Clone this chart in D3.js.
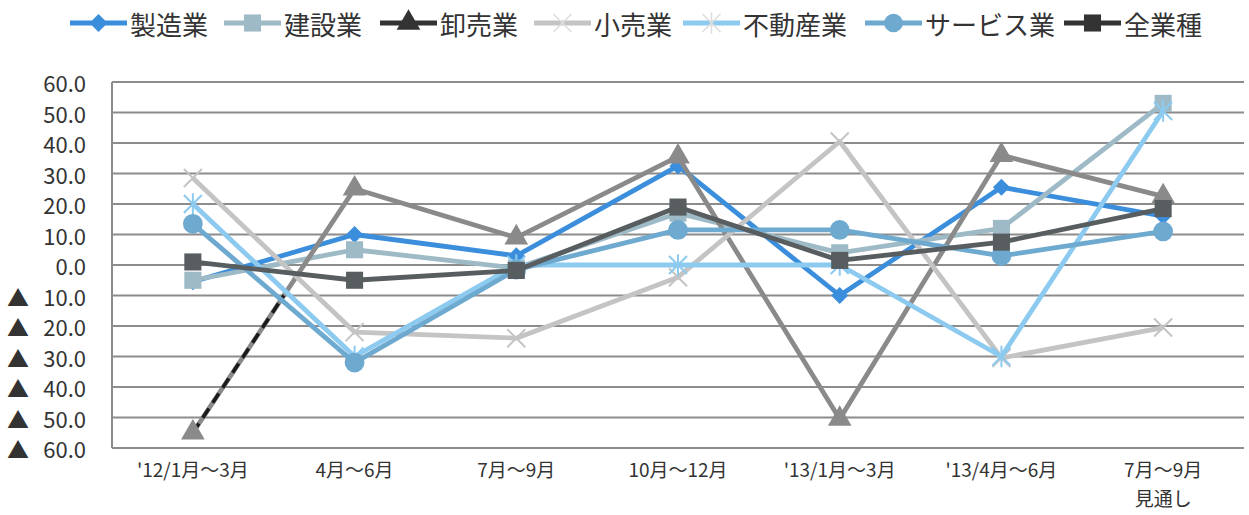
<!DOCTYPE html>
<html>
<head>
<meta charset="utf-8">
<script src="https://cdn.jsdelivr.net/npm/d3@7"></script>
<style>
  body { margin: 0; background: #fff; }
  svg { display: block; }
</style>
</head>
<body>
<svg id="chart" width="1249" height="515"></svg>
<script>
// Quarterly business conditions index by industry
const categories = ["'12/1月～3月", "4月～6月", "7月～9月", "10月～12月", "'13/1月～3月", "'13/4月～6月", "7月～9月"];
const categorySubLabels = ["", "", "", "", "", "", "見通し"];
const seriesNames = ["製造業", "建設業", "卸売業", "小売業", "不動産業", "サービス業", "全業種"];

const manufacturing = [-5.5, 10, 3, 32.5, -10, 25.5, 16];
const construction  = [-5, 5, -1, 17, 4, 12, 53];
const wholesale     = [-55, 25, 9, 35.5, -50.5, 36, 22.5];
const retail        = [28.5, -22, -24, -4, 40.5, -30.5, -20.5];
const realEstate    = [20, -30, 0, 0, 0, -30, 50.5];
const services      = [13.5, -32, -1.5, 11.5, 11.5, 3, 11];
const allIndustries = [1, -5, -1.8, 19, 1.5, 7.5, 18.5];

const yTicks = [60, 50, 40, 30, 20, 10, 0, -10, -20, -30, -40, -50, -60];

const seriesValues = [manufacturing, construction, wholesale, retail, realEstate, services, allIndustries];

// Styling per series: line colour, marker shape, legend colour
const styles = [
  { color: "#3b8edb", marker: "diamond", legendColor: "#3b8edb" },
  { color: "#9dbac6", marker: "square",  legendColor: "#9dbac6" },
  { color: "#8a8a8a", marker: "triangle", legendColor: "#333333" },
  { color: "#c4c4c4", marker: "cross",   legendColor: "#c4c4c4" },
  { color: "#8dcaf0", marker: "star",    legendColor: "#8dcaf0" },
  { color: "#6ea9cf", marker: "circle",  legendColor: "#6ea9cf" },
  { color: "#585d5f", marker: "square",  legendColor: "#333333" }
];

const svg = d3.select("#chart");
const plot = { left: 112, right: 1244, top: 82, bottom: 448 };

const x = d3.scalePoint().domain(d3.range(categories.length)).range([plot.left, plot.right]).padding(0.5);
const y = d3.scaleLinear().domain([-60, 60]).range([plot.bottom, plot.top]);

// Gridlines
svg.append("g").selectAll("line").data(yTicks).join("line")
  .attr("x1", plot.left).attr("x2", plot.right)
  .attr("y1", d => y(d)).attr("y2", d => y(d))
  .attr("stroke", "#8c8c8c").attr("stroke-width", 2);

// Vertical axis line
svg.append("line")
  .attr("x1", plot.left).attr("x2", plot.left)
  .attr("y1", plot.top).attr("y2", plot.bottom)
  .attr("stroke", "#8c8c8c").attr("stroke-width", 2);

// Y tick labels (negatives use ▲)
const yLab = svg.append("g").attr("font-family", "'Noto Sans CJK JP', 'Noto Sans', sans-serif")
  .attr("font-size", 22).attr("fill", "#333");
yLab.selectAll("text.num").data(yTicks).join("text")
  .attr("class", "num")
  .attr("x", 86).attr("y", d => y(d))
  .attr("text-anchor", "end").attr("dominant-baseline", "central")
  .text(d => Math.abs(d).toFixed(1));
yLab.selectAll("text.neg").data(yTicks.filter(d => d < 0)).join("text")
  .attr("class", "neg")
  .attr("x", 7).attr("y", d => y(d))
  .attr("dominant-baseline", "central")
  .text("▲");

// X labels
const xLab = svg.append("g").attr("font-family", "'Noto Sans CJK JP', sans-serif")
  .attr("font-size", 19).attr("fill", "#333").attr("text-anchor", "middle");
xLab.selectAll("text.main").data(categories).join("text")
  .attr("class", "main")
  .attr("x", (d, i) => x(i)).attr("y", 477)
  .text(d => d);
xLab.selectAll("text.sub").data(categorySubLabels).join("text")
  .attr("class", "sub")
  .attr("x", (d, i) => x(i)).attr("y", 506)
  .text(d => d);

// Marker path generator
function markerPath(type, s) {
  const h = s / 2;
  switch (type) {
    case "diamond": return `M0,${-h}L${h},0L0,${h}L${-h},0Z`;
    case "square": return d3.symbol(d3.symbolSquare, s * s * 0.9)();
    case "triangle": return d3.symbol(d3.symbolTriangle, s * s * 0.75)();
    case "circle": return d3.symbol(d3.symbolCircle, s * s * 0.85)();
    case "cross": return `M${-h},${-h}L${h},${h}M${-h},${h}L${h},${-h}`;
    case "star": return `M${-h},${-h}L${h},${h}M${-h},${h}L${h},${-h}M0,${-h * 1.2}L0,${h * 1.2}`;
  }
}

const line = d3.line().x((d, i) => x(i)).y(d => y(d));

const series = svg.append("g");
seriesValues.forEach((vals, k) => {
  const st = styles[k];
  const g = series.append("g");
  g.append("path").datum(vals)
    .attr("d", line)
    .attr("fill", "none").attr("stroke", st.color)
    .attr("stroke-width", 4.8).attr("stroke-linejoin", "round");

  // Dashed rendering on the start of the first wholesale segment
  if (k === 2) {
    const t = (-10 - vals[0]) / (vals[1] - vals[0]);
    const xe = x(0) + t * (x(1) - x(0));
    g.append("line")
      .attr("x1", x(0)).attr("y1", y(vals[0]))
      .attr("x2", xe).attr("y2", y(-10))
      .attr("stroke", "#1a1a1a").attr("stroke-width", 3.5)
      .attr("stroke-dasharray", "11 7");
  }

  const isLine = st.marker === "cross" || st.marker === "star";
  g.selectAll("path.m").data(vals).join("path")
    .attr("class", "m")
    .attr("transform", (d, i) => `translate(${x(i)},${y(d)})`)
    .attr("d", markerPath(st.marker, st.marker === "circle" ? 19 : (st.marker === "diamond" ? 17 : 18)))
    .attr("fill", isLine ? "none" : st.color)
    .attr("stroke", st.color)
    .attr("stroke-width", isLine ? 2 : 0);
});

// Legend
const legendX = [70, 224, 380, 534, 683, 865, 1064];
const legend = svg.append("g");
seriesNames.forEach((name, k) => {
  const st = styles[k];
  const x0 = legendX[k], len = 57, cy = 23;
  const g = legend.append("g");
  g.append("line").attr("x1", x0).attr("x2", x0 + len).attr("y1", cy).attr("y2", cy)
    .attr("stroke", st.legendColor).attr("stroke-width", 5);
  const isLine = st.marker === "cross" || st.marker === "star";
  g.append("path")
    .attr("transform", `translate(${x0 + len / 2},${cy})`)
    .attr("d", markerPath(st.marker, 18))
    .attr("fill", isLine ? "none" : st.legendColor)
    .attr("stroke", isLine ? "#dddddd" : st.legendColor)
    .attr("stroke-width", isLine ? 1.5 : 0);
  g.append("text")
    .attr("x", x0 + len + 3).attr("y", cy)
    .attr("dominant-baseline", "central")
    .attr("font-family", "'Noto Sans CJK JP', sans-serif")
    .attr("font-size", 26).attr("fill", "#333")
    .text(name);
});
</script>
</body>
</html>
